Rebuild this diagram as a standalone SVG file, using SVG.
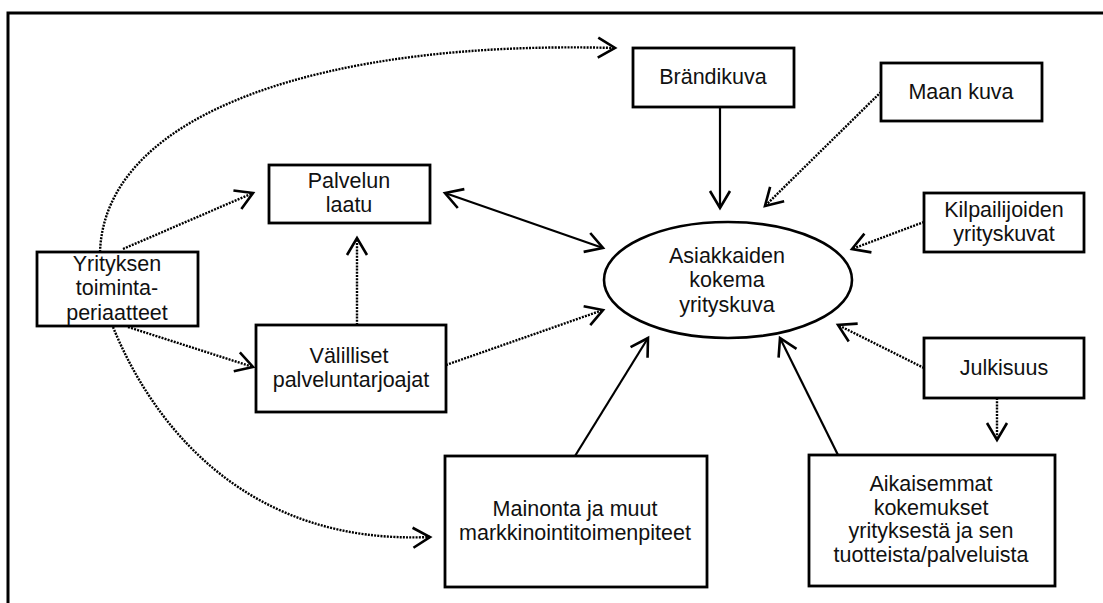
<svg xmlns="http://www.w3.org/2000/svg" width="1103" height="603" viewBox="0 0 1103 603">
  <style>
    .box { fill: #fff; stroke: #000; stroke-width: 2.8; }
    .lbl { font-family: "Liberation Sans", Arial, sans-serif; font-size: 21.5px; fill: #111; text-anchor: middle; }
    .solid { fill: none; stroke: #000; stroke-width: 2.2; }
    .dot { fill: none; stroke: #000; stroke-width: 2.4; stroke-dasharray: 2 1.2; }
  </style>
  <defs>
    <marker id="head" markerUnits="userSpaceOnUse" markerWidth="26" markerHeight="26" viewBox="0 0 26 26" refX="20" refY="13" orient="auto-start-reverse">
      <path d="M3,3 L20,13 L3,23" fill="none" stroke="#000" stroke-width="2.6" stroke-dasharray="none"/>
    </marker>
  </defs>

  <rect width="1103" height="603" fill="#fff"/>

  <!-- outer frame (top and left edges) -->
  <path d="M8,603 L8,13 L1103,13" fill="none" stroke="#000" stroke-width="3"/>

  <g id="connectors">
    <!-- toimintaperiaatteet -> Brändikuva -->
    <path class="dot" d="M100,252 C105,110 330,40 615,48" marker-end="url(#head)"/>
    <!-- toimintaperiaatteet -> Mainonta -->
    <path class="dot" d="M113,327 C155,430 250,545 430,537" marker-end="url(#head)"/>
    <!-- toimintaperiaatteet -> Palvelun laatu -->
    <path class="dot" d="M123,249 L253,193" marker-end="url(#head)"/>
    <!-- toimintaperiaatteet -> Välilliset -->
    <path class="dot" d="M128,327 L253,367" marker-end="url(#head)"/>
    <!-- Välilliset -> Palvelun laatu -->
    <path class="dot" d="M357,325 L357,238" marker-end="url(#head)"/>
    <!-- Välilliset -> yrityskuva -->
    <path class="dot" d="M446,365 L603,310" marker-end="url(#head)"/>
    <!-- Palvelun laatu <-> yrityskuva -->
    <path class="solid" d="M445,193 L603,248" marker-start="url(#head)" marker-end="url(#head)"/>
    <!-- Brändikuva -> yrityskuva -->
    <path class="solid" d="M720,107 L720,208" marker-end="url(#head)"/>
    <!-- Maan kuva -> yrityskuva -->
    <path class="dot" d="M881,92 L765,206" marker-end="url(#head)"/>
    <!-- Kilpailijoiden yrityskuvat -> yrityskuva -->
    <path class="dot" d="M924,222 L852,249" marker-end="url(#head)"/>
    <!-- Julkisuus -> yrityskuva -->
    <path class="dot" d="M924,368 L838,325" marker-end="url(#head)"/>
    <!-- Julkisuus -> Aikaisemmat -->
    <path class="dot" d="M997,398 L997,440" marker-end="url(#head)"/>
    <!-- Aikaisemmat -> yrityskuva -->
    <path class="solid" d="M838,455 L780,338" stroke-width="3" marker-end="url(#head)"/>
    <!-- Mainonta -> yrityskuva -->
    <path class="solid" d="M575,456 L648,338" stroke-width="1.8" marker-end="url(#head)"/>
  </g>

  <g id="yrityskuva">
    <ellipse cx="728" cy="280" rx="124" ry="58" fill="#fff" stroke="#000" stroke-width="2.6"/>
    <text class="lbl" x="727" y="263">Asiakkaiden</text>
    <text class="lbl" x="727" y="287">kokema</text>
    <text class="lbl" x="727" y="312">yrityskuva</text>
  </g>

  <g id="brandikuva">
    <rect class="box" x="633" y="48" width="161" height="59"/>
    <text class="lbl" x="713" y="84">Brändikuva</text>
  </g>

  <g id="maan-kuva">
    <rect class="box" x="881" y="63" width="161" height="58"/>
    <text class="lbl" x="961" y="99">Maan kuva</text>
  </g>

  <g id="kilpailijoiden">
    <rect class="box" x="924" y="193" width="160" height="59"/>
    <text class="lbl" x="1004" y="217">Kilpailijoiden</text>
    <text class="lbl" x="1004" y="241">yrityskuvat</text>
  </g>

  <g id="palvelun-laatu">
    <rect class="box" x="269" y="165" width="161" height="58"/>
    <text class="lbl" x="349" y="188">Palvelun</text>
    <text class="lbl" x="349" y="212">laatu</text>
  </g>

  <g id="toimintaperiaatteet">
    <rect class="box" x="37" y="252" width="161" height="74"/>
    <text class="lbl" x="117" y="271">Yrityksen</text>
    <text class="lbl" x="117" y="295">toiminta-</text>
    <text class="lbl" x="117" y="320">periaatteet</text>
  </g>

  <g id="valilliset">
    <rect class="box" x="256" y="325" width="190" height="87"/>
    <text class="lbl" x="349" y="363">Välilliset</text>
    <text class="lbl" x="351" y="387">palveluntarjoajat</text>
  </g>

  <g id="julkisuus">
    <rect class="box" x="924" y="338" width="160" height="60"/>
    <text class="lbl" x="1004" y="375">Julkisuus</text>
  </g>

  <g id="mainonta">
    <rect class="box" x="445" y="456" width="262" height="131"/>
    <text class="lbl" x="575" y="516">Mainonta ja muut</text>
    <text class="lbl" x="575" y="540">markkinointitoimenpiteet</text>
  </g>

  <g id="aikaisemmat">
    <rect class="box" x="809" y="455" width="246" height="131"/>
    <text class="lbl" x="931" y="491">Aikaisemmat</text>
    <text class="lbl" x="931" y="515">kokemukset</text>
    <text class="lbl" x="931" y="538">yrityksestä ja sen</text>
    <text class="lbl" x="931" y="562">tuotteista/palveluista</text>
  </g>
</svg>
